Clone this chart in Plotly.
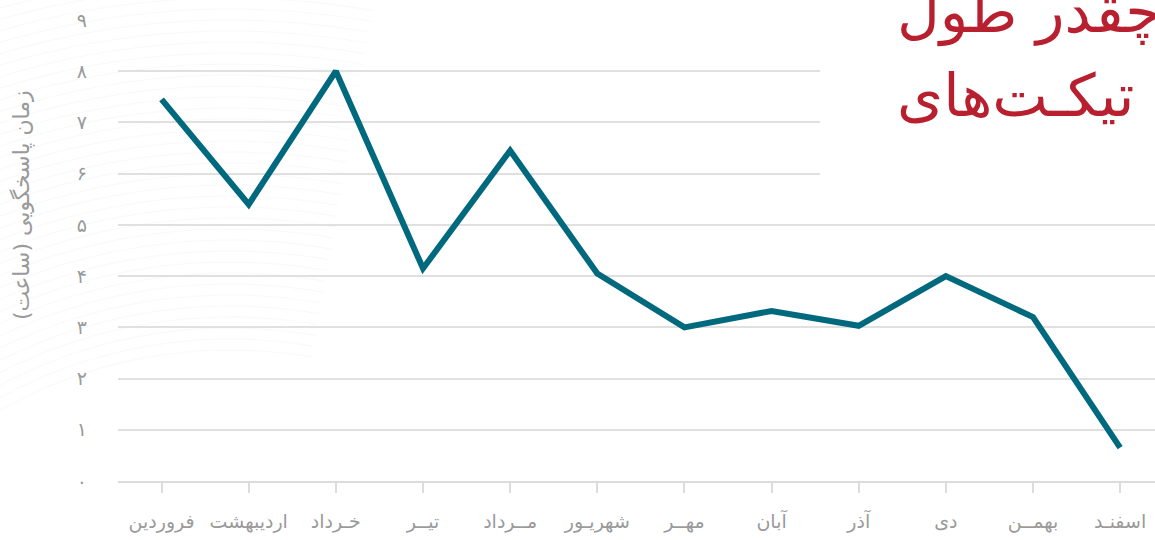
import math
import plotly.graph_objects as go

# Monthly average ticket response time (hours)
months = ["فروردین", "اردیبهشت", "خـرداد", "تیــر", "مــرداد", "شهریـور",
          "مهــر", "آبان", "آذر", "دی", "بهمــن", "اسفنـد"]
hours = [7.45, 5.4, 8.0, 4.15, 6.45, 4.05, 3.0, 3.32, 3.03, 4.0, 3.2, 0.65]

y_tick_vals = list(range(10))
y_tick_text = ["۰", "۱", "۲", "۳", "۴", "۵", "۶", "۷", "۸", "۹"]

W, H = 1155, 540
ML, MR, MT, MB = 118, 0, 20, 59
PW, PH = W - ML - MR, H - MT - MB

FONT = "DejaVu Sans, sans-serif"
GREY = "#9a9a9a"
TEAL = "#00697d"
RED = "#b8202f"


def to_paper(px, py):
    return (px - ML) / PW, (H - MB - py) / PH


fig = go.Figure()
fig.add_trace(go.Scatter(
    x=months, y=hours, mode="lines",
    line=dict(color=TEAL, width=6),
    hoverinfo="x+y", showlegend=False,
))

shapes = []

# faint concentric arcs decorating the upper-left background
cx, cy = 230, 820
for i in range(40):
    r = 470 + i * 11
    pts = []
    for k in range(51):
        a = math.radians(195 + k * (85 / 50))
        px = cx + r * math.cos(a)
        py = cy + r * math.sin(a)
        pts.append(to_paper(px, py))
    path = "M " + " L ".join(f"{x:.4f},{y:.4f}" for x, y in pts)
    shapes.append(dict(
        type="path", path=path, xref="paper", yref="paper", layer="below",
        line=dict(color="rgba(0,0,0,0.024)", width=1.2),
    ))

# white panel behind the heading
x0, ytop = to_paper(820, -10)
x1, ybot = to_paper(W + 5, 200)
shapes.append(dict(
    type="rect", xref="paper", yref="paper", x0=x0, x1=x1, y0=ybot, y1=ytop,
    fillcolor="white", line=dict(width=0), layer="above",
))

annotations = []
# heading (two lines, running past the right edge)
hx, _ = to_paper(895, 0)
_, h1y = to_paper(0, 12)
_, h2y = to_paper(0, 96)
annotations.append(dict(
    text="پاسخ به تیکت‌ها چقدر طول", xref="paper", yref="paper",
    x=hx, y=h1y, xanchor="left", yanchor="middle", showarrow=False,
    font=dict(family=FONT, size=59, color=RED),
))
annotations.append(dict(
    text="تیکـت‌های", xref="paper", yref="paper",
    x=hx, y=h2y, xanchor="left", yanchor="middle", showarrow=False,
    font=dict(family=FONT, size=59, color=RED),
))

# y-axis title
tx, ty = to_paper(22, 205)
annotations.append(dict(
    text="زمان پاسخگویی (ساعت)", xref="paper", yref="paper",
    x=tx, y=ty, xanchor="center", yanchor="middle", textangle=-90,
    showarrow=False, font=dict(family=FONT, size=22, color=GREY),
))

fig.update_layout(
    width=W, height=H,
    margin=dict(l=ML, r=MR, t=MT, b=MB),
    paper_bgcolor="white", plot_bgcolor="white",
    shapes=shapes, annotations=annotations,
    font=dict(family=FONT, color=GREY),
    xaxis=dict(
        type="category", range=[-0.5, 11.4],
        showline=True, linecolor="#dcdcdc", linewidth=2,
        ticks="outside", ticklen=10, tickwidth=1.5, tickcolor="#dcdcdc",
        showgrid=False, zeroline=False,
        tickfont=dict(family=FONT, size=19, color=GREY),
        ticklabelstandoff=12,
    ),
    yaxis=dict(
        range=[0, 9], tickvals=y_tick_vals, ticktext=y_tick_text,
        showgrid=True, gridcolor="#e0e0e0", gridwidth=2,
        zeroline=False, showline=False, ticks="",
        tickfont=dict(family=FONT, size=19, color=GREY),
        ticklabelstandoff=30,
    ),
)

fig.write_html("out.html")
